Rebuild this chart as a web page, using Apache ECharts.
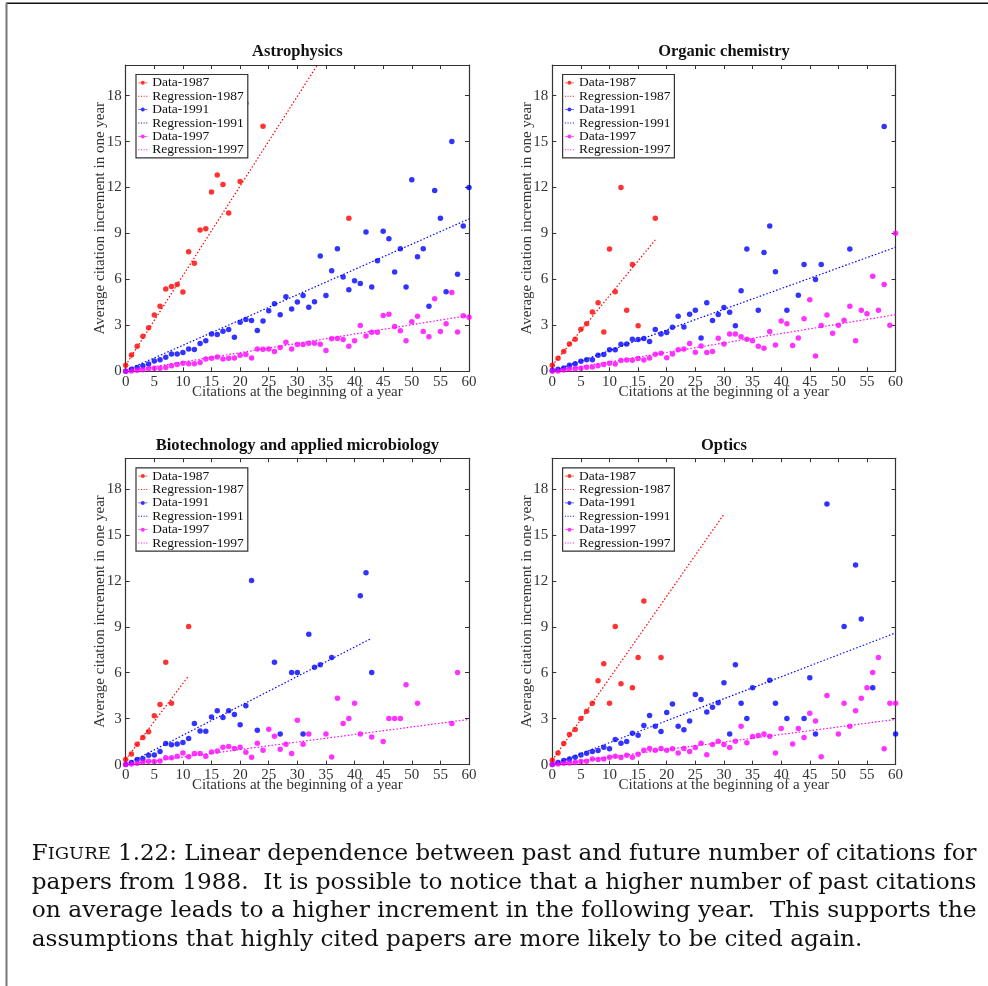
<!DOCTYPE html>
<html>
<head>
<meta charset="utf-8">
<script src="https://cdn.jsdelivr.net/npm/echarts@6/dist/echarts.min.js"></script>
<style>
html, body { margin: 0; padding: 0; background: #fff; }
#main { width: 988px; height: 986px; }
</style>
</head>
<body>
<div id="main"></div>
<script>
// panel titles and legend names
var panelTitles = ['Astrophysics', 'Organic chemistry', 'Biotechnology and applied microbiology', 'Optics'];
var seriesNames = ['Data-1987', 'Regression-1987', 'Data-1991', 'Regression-1991', 'Data-1997', 'Regression-1997'];
var yearColors = ['#ff0000', '#0000ff', '#ff00ff'];
var xAxisName = 'Citations at the beginning of a year';
var yAxisName = 'Average citation increment in one year';

// Astrophysics
var astro1987 = [[0,0.4],[1,1.07],[2,1.64],[3,2.29],[4,2.84],[5,3.67],[6,4.25],[7,5.37],[8,5.54],[9,5.67],[10,5.17],[11,7.81],[12,7.05],[13,9.23],[14,9.3],[15,11.7],[16,12.81],[17,12.2],[18,10.34],[20,12.39],[21,17.5],[24,16.0],[39,10.0]];
var astro1991 = [[0,0],[1,0.13],[2,0.24],[3,0.37],[4,0.48],[5,0.68],[6,0.76],[7,0.92],[8,1.13],[9,1.13],[10,1.22],[11,1.46],[12,1.42],[13,1.81],[14,1.99],[15,2.44],[16,2.4],[17,2.62],[18,2.73],[19,2.23],[20,3.21],[21,3.38],[22,3.32],[23,2.66],[24,3.29],[25,3.95],[26,4.41],[27,3.69],[28,4.87],[29,4.06],[30,4.52],[31,4.95],[32,4.19],[33,4.54],[34,7.53],[35,4.95],[36,6.57],[37,8.01],[38,6.15],[39,5.32],[40,5.91],[41,5.74],[42,9.1],[43,5.5],[44,7.22],[45,9.14],[46,8.66],[47,6.48],[48,8.01],[49,5.5],[50,12.5],[51,7.48],[52,8.01],[53,4.25],[54,11.8],[55,10.0],[56,5.19],[57,15.0],[58,6.33],[59,9.49],[60,12.0]];
var astro1997 = [[0,0],[1,0.02],[2,0.07],[3,0.1],[4,0.17],[5,0.2],[6,0.2],[7,0.24],[8,0.37],[9,0.44],[10,0.52],[11,0.5],[12,0.5],[13,0.57],[14,0.81],[15,0.85],[16,0.94],[17,0.81],[18,0.85],[19,0.87],[20,1.05],[21,1.09],[22,0.87],[23,1.46],[24,1.44],[25,1.46],[26,1.29],[27,1.55],[28,1.9],[29,1.46],[30,1.75],[31,1.75],[32,1.83],[33,1.83],[34,1.77],[35,1.35],[36,2.12],[37,2.14],[38,2.07],[39,1.64],[40,1.99],[41,2.99],[42,2.31],[43,2.55],[44,2.55],[45,3.64],[46,3.73],[47,2.92],[48,2.64],[49,1.99],[50,3.23],[51,3.6],[52,2.6],[53,2.25],[54,4.73],[55,2.6],[56,3.1],[57,5.15],[58,2.57],[59,3.62],[60,3.53]];
var astroReg1987 = [[0,0.4],[33.5,20]];
var astroReg1991 = [[0,0.05],[60,9.95]];
var astroReg1997 = [[0,0],[60,3.65]];

// Organic chemistry
var organic1987 = [[0,0.39],[1,0.85],[2,1.29],[3,1.79],[4,2.09],[5,2.75],[6,3.1],[7,3.88],[8,4.47],[9,2.57],[10,7.99],[11,5.19],[12,12.0],[13,3.99],[14,6.98],[15,2.97],[18,9.99]];
var organic1991 = [[0,0.07],[1,0.13],[2,0.22],[3,0.39],[4,0.5],[5,0.65],[6,0.76],[7,0.76],[8,1.05],[9,1.09],[10,1.4],[11,1.4],[12,1.77],[13,1.79],[14,2.09],[15,2.07],[16,2.14],[17,1.94],[18,2.73],[19,2.44],[20,2.53],[21,2.88],[22,3.6],[23,2.9],[24,3.73],[25,3.99],[26,2.18],[27,4.47],[28,3.32],[29,3.71],[30,4.17],[31,3.86],[32,2.97],[33,5.26],[34,7.99],[36,3.99],[37,7.75],[38,9.49],[39,6.5],[41,3.99],[43,4.97],[44,6.98],[46,6.0],[47,6.98],[52,7.99],[58,15.99]];
var organic1997 = [[0,0],[1,0.02],[2,0.09],[3,0.15],[4,0.17],[5,0.2],[6,0.26],[7,0.28],[8,0.37],[9,0.44],[10,0.52],[11,0.48],[12,0.7],[13,0.74],[14,0.72],[15,0.83],[16,0.74],[17,0.87],[18,1.11],[19,1.18],[20,0.89],[21,1.13],[22,1.4],[23,1.46],[24,1.81],[25,1.24],[26,1.66],[27,1.22],[28,1.29],[29,2.16],[30,1.79],[31,2.44],[32,2.44],[33,2.25],[34,2.09],[35,2.0],[36,1.64],[37,1.51],[38,2.6],[39,1.72],[40,3.29],[41,3.1],[42,1.68],[43,2.18],[44,3.43],[45,4.67],[46,1.0],[47,2.99],[48,3.67],[49,2.49],[50,3.01],[51,3.34],[52,4.25],[53,2.0],[54,3.99],[55,3.75],[56,6.2],[57,3.99],[58,5.67],[59,3.01],[60,9.01]];
var organicReg1987 = [[0,0.39],[18,8.58]];
var organicReg1991 = [[0,0],[60,8.1]];
var organicReg1997 = [[0,0],[60,3.7]];

// Biotechnology and applied microbiology
var biotech1987 = [[0,0.33],[1,0.7],[2,1.33],[3,1.77],[4,2.14],[5,3.19],[6,3.93],[7,6.68],[8,4.01],[11,9.01]];
var biotech1991 = [[0,0],[1,0.13],[2,0.33],[3,0.39],[4,0.61],[5,0.63],[6,0.85],[7,1.37],[8,1.29],[9,1.35],[10,1.44],[11,1.7],[12,2.68],[13,2.2],[14,2.18],[15,3.1],[16,3.51],[17,3.08],[18,3.51],[19,3.27],[20,2.6],[21,3.84],[22,12.02],[23,2.25],[26,6.68],[27,2.0],[29,6.02],[30,6.02],[31,2.0],[32,8.51],[33,6.35],[34,6.52],[36,7.0],[41,11.02],[42,12.52],[43,6.02]];
var biotech1997 = [[0,0],[1,0.04],[2,0.09],[3,0.17],[4,0.22],[5,0.2],[6,0.24],[7,0.44],[8,0.44],[9,0.55],[10,0.76],[11,0.52],[12,0.72],[13,0.72],[14,0.55],[15,0.83],[16,0.89],[17,1.13],[18,1.18],[19,1.05],[20,1.13],[21,0.81],[22,0.48],[23,1.4],[24,0.94],[25,2.31],[26,1.85],[27,1.0],[28,1.33],[29,0.72],[30,2.9],[31,1.33],[32,2.0],[35,2.0],[36,0.5],[37,4.34],[38,2.68],[39,3.01],[40,4.01],[41,2.0],[43,1.81],[45,1.51],[46,3.01],[47,3.01],[48,3.01],[49,5.21],[51,4.01],[57,2.68],[58,6.02]];
var biotechReg1987 = [[0,0.33],[11,5.8]];
var biotechReg1991 = [[0,0],[43,8.25]];
var biotechReg1997 = [[0,0],[60,2.95]];

// Optics
var optics1987 = [[0,0.28],[1,0.76],[2,1.37],[3,1.96],[4,2.29],[5,3.01],[6,3.49],[7,4.01],[8,5.48],[9,6.59],[10,4.01],[11,9.01],[12,5.28],[14,5.02],[15,7.0],[16,10.69],[19,7.0]];
var optics1991 = [[0,0],[1,0.13],[2,0.26],[3,0.37],[4,0.48],[5,0.63],[6,0.74],[7,0.85],[8,0.92],[9,1.13],[10,1.03],[11,1.64],[12,1.4],[13,1.51],[14,2.05],[15,1.92],[16,2.55],[17,3.21],[18,2.51],[19,2.16],[20,3.4],[21,3.95],[22,2.51],[23,2.27],[24,2.84],[25,4.58],[26,4.25],[27,3.43],[28,3.75],[29,4.04],[30,5.35],[31,2.0],[32,6.52],[33,4.01],[34,3.01],[35,5.02],[38,5.5],[39,4.01],[41,3.01],[44,3.01],[45,5.67],[46,2.0],[48,17.02],[51,9.01],[53,13.03],[54,9.51],[56,5.02],[60,2.0]];
var optics1997 = [[0,0],[1,0.04],[2,0.09],[3,0.11],[4,0.13],[5,0.2],[6,0.22],[7,0.37],[8,0.33],[9,0.37],[10,0.48],[11,0.55],[12,0.46],[13,0.61],[14,0.48],[15,0.68],[16,0.94],[17,1.05],[18,0.94],[19,1.05],[20,0.94],[21,1.03],[22,0.76],[23,1.05],[24,0.85],[25,1.11],[26,1.4],[27,0.65],[28,1.31],[29,1.53],[30,1.31],[31,1.11],[32,1.53],[33,2.51],[34,1.42],[35,1.83],[36,1.9],[37,2.0],[38,1.85],[39,0.76],[40,2.36],[42,1.35],[43,2.36],[44,1.77],[45,3.36],[46,2.84],[47,0.52],[48,4.52],[50,2.0],[51,4.01],[52,2.51],[53,3.51],[54,4.34],[55,5.02],[56,6.02],[57,7.0],[58,1.03],[59,4.01],[60,4.01]];
var opticsReg1987 = [[0,0.28],[30,16.35]];
var opticsReg1991 = [[0,0],[60,8.6]];
var opticsReg1997 = [[0,0],[60,2.95]];

var captionLines = [
    ' 1.22: Linear dependence between past and future number of citations for',
    'papers from 1988.  It is possible to notice that a higher number of past citations',
    'on average leads to a higher increment in the following year.  This supports the',
    'assumptions that highly cited papers are more likely to be cited again.'
];

var panels = [
    { data: [astro1987, astro1991, astro1997], reg: [astroReg1987, astroReg1991, astroReg1997] },
    { data: [organic1987, organic1991, organic1997], reg: [organicReg1987, organicReg1991, organicReg1997] },
    { data: [biotech1987, biotech1991, biotech1997], reg: [biotechReg1987, biotechReg1991, biotechReg1997] },
    { data: [optics1987, optics1991, optics1997], reg: [opticsReg1987, opticsReg1991, opticsReg1997] }
];

var serif = '"Liberation Serif", "Times New Roman", serif';
var gridLefts = [125.7, 552.3];
var gridTops = [65, 458.3];
var gridW = 343.3, gridH = 306.3;

var dataIcon = 'path://M0 2.1H9V2.9H0Z M6.5 2.5A2 2 0 1 1 2.5 2.5A2 2 0 1 1 6.5 2.5Z';
var regIcon = 'path://M0 0h1v1H0Z M2.67 0h1v1h-1Z M5.33 0h1v1h-1Z M8 0h1v1H8Z';

var grids = [], xAxes = [], yAxes = [], series = [], titles = [], legends = [];

panels.forEach(function (p, i) {
    var gl = gridLefts[i % 2], gt = gridTops[Math.floor(i / 2)];
    grids.push({ left: gl, top: gt, width: gridW, height: gridH, outerBoundsMode: 'none', containLabel: false });

    titles.push({
        text: panelTitles[i], left: gl + gridW / 2, top: gt - 21.5, textAlign: 'center', padding: 0,
        textStyle: { fontFamily: serif, fontWeight: 'bold', fontSize: 16.5, color: '#111' }
    });

    var frameLine = { show: true, onZero: false, lineStyle: { color: '#333', width: 1.2 } };
    var tick = { show: true, inside: true, length: 4, lineStyle: { color: '#333', width: 1 } };

    xAxes.push({
        type: 'value', gridIndex: i, min: 0, max: 60, interval: 5,
        axisLine: frameLine, axisTick: tick, splitLine: { show: false },
        axisLabel: { margin: 3, fontFamily: serif, fontSize: 15, color: '#333' },
        name: xAxisName, nameLocation: 'middle', nameGap: 13, nameMoveOverlap: false,
        nameTextStyle: { fontFamily: serif, fontSize: 15, color: '#333' }
    });
    xAxes.push({
        type: 'value', gridIndex: i, position: 'top', min: 0, max: 60, interval: 5,
        axisLine: frameLine, axisTick: tick, splitLine: { show: false }, axisLabel: { show: false }
    });
    yAxes.push({
        type: 'value', gridIndex: i, min: 0, max: 20, interval: 3,
        axisLine: frameLine, axisTick: tick, splitLine: { show: false },
        axisLabel: { margin: 4, fontFamily: serif, fontSize: 15, color: '#333', showMaxLabel: false },
        name: yAxisName, nameLocation: 'middle', nameGap: 18, nameMoveOverlap: false,
        nameTextStyle: { fontFamily: serif, fontSize: 15, color: '#333' }
    });
    yAxes.push({
        type: 'value', gridIndex: i, position: 'right', min: 0, max: 20, interval: 3,
        axisLine: frameLine, axisTick: tick, splitLine: { show: false }, axisLabel: { show: false }
    });

    for (var k = 0; k < 3; k++) {
        series.push({
            name: seriesNames[2 * k], type: 'scatter', xAxisIndex: 2 * i, yAxisIndex: 2 * i,
            data: p.data[k], symbolSize: 5.5, itemStyle: { color: yearColors[k], borderWidth: 0 },
            emphasis: { disabled: true }
        });
        series.push({
            name: seriesNames[2 * k + 1], type: 'line', xAxisIndex: 2 * i, yAxisIndex: 2 * i,
            data: p.reg[k], symbol: 'none', clip: true,
            itemStyle: { color: yearColors[k] },
            lineStyle: { color: yearColors[k], width: 1.2, type: [1.5, 2] },
            emphasis: { disabled: true }
        });
    }

    legends.push({
        orient: 'vertical', left: gl + 10.3, top: gt + 9.5,
        padding: [1.3, 4, 1, 2.3], itemGap: -0.6, itemWidth: 9, itemHeight: 5,
        backgroundColor: '#fff', borderColor: '#333', borderWidth: 1.2,
        itemStyle: { borderWidth: 0 },
        textStyle: { fontFamily: serif, fontSize: 13.5, color: '#111', lineHeight: 13.33 },
        selectedMode: false, z: 10,
        data: seriesNames.map(function (n, j) { return { name: n, icon: j % 2 === 0 ? dataIcon : regIcon }; })
    });
});

// caption lines stretched to the justified width
var capFont = '"DejaVu Serif", serif';
var capSize = 22, capSmall = 17.2;
var ctx = document.createElement('canvas').getContext('2d');
function textWidth(t, size) { ctx.font = size + 'px ' + capFont; return ctx.measureText(t).width; }
var capLeft = 31.7, capRight = 976.5;
var capBaselines = [861, 890, 918.3, 946.7];
var widths = [
    textWidth('F', capSize) + textWidth('IGURE', capSmall) + textWidth(captionLines[0], capSize),
    textWidth(captionLines[1], capSize),
    textWidth(captionLines[2], capSize),
    textWidth(captionLines[3], capSize)
];
var scales = widths.map(function (w) { return (capRight - capLeft) / w; });
scales[3] = (scales[0] + scales[1] + scales[2]) / 3;

var graphics = [
    { type: 'line', shape: { x1: 6, y1: 3.3, x2: 988, y2: 3.3 }, style: { stroke: '#111', lineWidth: 1.5 } },
    { type: 'line', shape: { x1: 6.5, y1: 3, x2: 6.5, y2: 986 }, style: { stroke: '#777', lineWidth: 2 } }
];
captionLines.forEach(function (line, i) {
    graphics.push({
        type: 'text', x: capLeft, y: capBaselines[i] - capSize * 0.3, scaleX: scales[i],
        style: {
            text: i === 0 ? '{a|F}{b|IGURE}' + line : line,
            font: capSize + 'px ' + capFont, fill: '#111',
            textAlign: 'left', textVerticalAlign: 'middle',
            rich: i === 0 ? {
                a: { fontFamily: capFont, fontSize: capSize, color: '#111' },
                b: { fontFamily: capFont, fontSize: capSmall, color: '#111' }
            } : undefined
        }
    });
});

var myChart = echarts.init(document.getElementById('main'), null, { renderer: 'canvas' });
var option = {
    backgroundColor: '#fff',
    animation: false,
    title: titles,
    legend: legends,
    grid: grids,
    xAxis: xAxes,
    yAxis: yAxes,
    series: series,
    graphic: graphics
};
myChart.setOption(option);
</script>
</body>
</html>
